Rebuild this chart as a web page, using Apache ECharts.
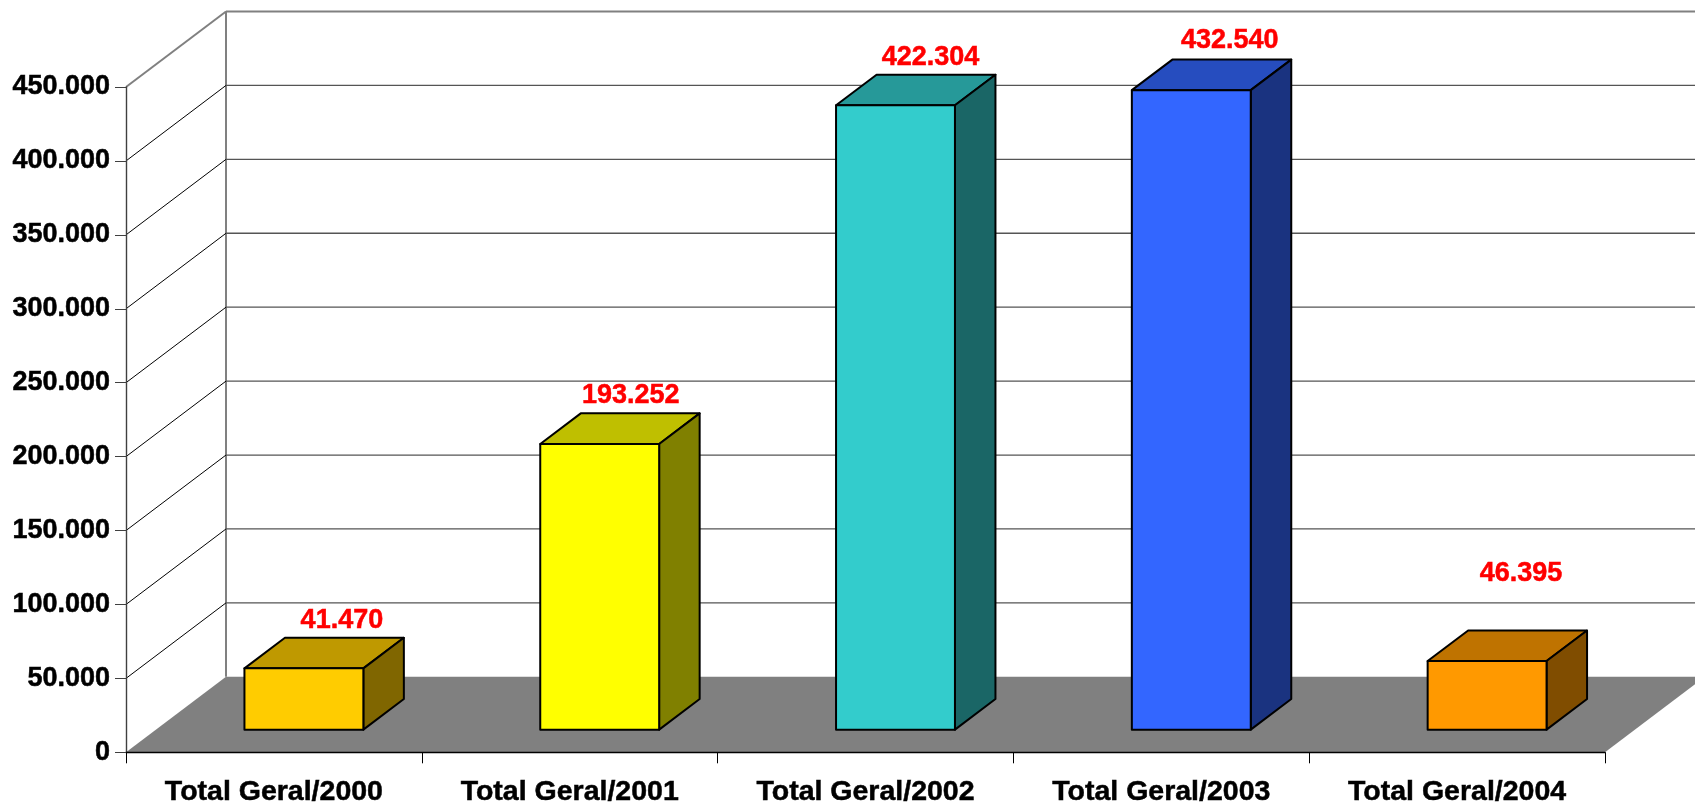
<!DOCTYPE html>
<html>
<head>
<meta charset="utf-8">
<style>html,body{margin:0;padding:0;background:#fff;overflow:hidden}#c{width:1695px;height:804px}</style>
<script src="https://cdn.jsdelivr.net/npm/echarts@6/dist/echarts.min.js"></script>
</head>
<body>
<div id="c"></div>
<script>
const categories = ['Total Geral/2000','Total Geral/2001','Total Geral/2002','Total Geral/2003','Total Geral/2004'];
const values = [41470, 193252, 422304, 432540, 46395];
const yTicks = [0,50000,100000,150000,200000,250000,300000,350000,400000,450000];

const frontColors = ['#FFCC00','#FFFF00','#33CCCC','#3366FF','#FF9900'];
const topColors   = ['#BF9900','#BFBF00','#269999','#264DBF','#BF7300'];
const sideColors  = ['#806600','#808000','#1A6666','#1A3380','#804D00'];

// projection of the 3D depth, in pixels
const DEPTH_X = 100, DEPTH_Y = 75.5;
const BAR_RATIO = 0.402, BAR_DEPTH = 0.405, BAR_GAP = 0.3;
// label placement relative to the bar's back top edge
const labelLift = [17, 18, 17.5, 19, 57];
const labelShift = [38, 31, 35, 38.5, 34];
const FONT = '"Liberation Sans", Arial, sans-serif';

const fmt = v => String(v).replace(/\B(?=(\d{3})+$)/g, '.');

function wallItem(params, api) {
  const v = api.value(1);
  const cs = params.coordSys;
  const y = api.coord([0, v])[1];
  const x0 = cs.x, x1 = cs.x + cs.width;
  const children = [];
  const top = v === yTicks[yTicks.length - 1];
  if (v === 0) {
    children.push({type:'polygon', shape:{points:[[x0,y],[x1,y],[x1+DEPTH_X,y-DEPTH_Y],[x0+DEPTH_X,y-DEPTH_Y]]},
      style:{fill:'#808080', stroke:null}});
    children.push({type:'line', shape:{x1:x0+DEPTH_X,y1:cs.y-DEPTH_Y,x2:x0+DEPTH_X,y2:y-DEPTH_Y},
      style:{stroke:'#808080', lineWidth:2, fill:null}});
  } else {
    children.push({type:'line', shape:{x1:x0,y1:y,x2:x0+DEPTH_X,y2:y-DEPTH_Y},
      style:{stroke: top ? '#808080' : '#000', lineWidth: top ? 2 : 1, fill:null}});
    children.push({type:'line', shape:{x1:x0+DEPTH_X,y1:y-DEPTH_Y,x2:x1+DEPTH_X,y2:y-DEPTH_Y},
      style:{stroke: top ? '#808080' : '#555', lineWidth: top ? 2 : 1.3, fill:null}});
  }
  return {type:'group', children};
}

function barItem(params, api) {
  const i = api.value(0), v = api.value(1);
  const c = api.coord([i, v]), b = api.coord([i, 0]);
  const w = api.size([1, 0])[0] * BAR_RATIO;
  const dx = DEPTH_X * BAR_DEPTH, dy = DEPTH_Y * BAR_DEPTH;
  const sx = DEPTH_X * BAR_GAP, sy = DEPTH_Y * BAR_GAP;
  const l = c[0] - w/2 + sx, r = c[0] + w/2 + sx, t = c[1] - sy, bt = b[1] - sy;
  const edge = {stroke:'#000', lineWidth:2, lineJoin:'round'};
  return {type:'group', children:[
    {type:'polygon', shape:{points:[[l,t],[r,t],[r+dx,t-dy],[l+dx,t-dy]]}, style:{fill:topColors[i], ...edge}},
    {type:'polygon', shape:{points:[[r,t],[r+dx,t-dy],[r+dx,bt-dy],[r,bt]]}, style:{fill:sideColors[i], ...edge}},
    {type:'rect', shape:{x:l,y:t,width:r-l,height:bt-t}, style:{fill:frontColors[i], ...edge}},
    {type:'text', x:(l+r)/2+labelShift[i], y:t-dy-labelLift[i],
      style:{text:fmt(v), fill:'#FF0000', font:'bold 27px '+FONT, textAlign:'center', textVerticalAlign:'middle',
        stroke:'#FF0000', lineWidth:0.5}}
  ]};
}

const chart = echarts.init(document.getElementById('c'), null, {renderer:'canvas'});
chart.setOption({
  animation:false,
  backgroundColor:'#fff',
  grid:{left:126, right:90, top:87, bottom:51.7, outerBoundsMode:'none'},
  xAxis:{type:'category', data:categories, z:5,
    axisLine:{lineStyle:{color:'#000',width:1.4}},
    axisTick:{show:true,length:11,lineStyle:{color:'#000',width:1}},
    axisLabel:{color:'#000',fontFamily:FONT,fontWeight:'bold',fontSize:28.5,margin:25,interval:0,
      textBorderColor:'#000',textBorderWidth:0.5}},
  yAxis:{type:'value', min:0, max:450000, interval:50000, z:5,
    axisLine:{show:true,lineStyle:{color:'#404040',width:1.4}},
    axisTick:{show:true,length:11,lineStyle:{color:'#404040',width:1}},
    splitLine:{show:false},
    axisLabel:{color:'#000',fontFamily:FONT,fontWeight:'bold',fontSize:27,margin:16,formatter:fmt,
      padding:[6,0,0,0],textBorderColor:'#000',textBorderWidth:0.5}},
  series:[
    {type:'custom', silent:true, z:1, renderItem:wallItem, encode:{x:0,y:1},
      data:yTicks.map(t=>[0,t])},
    {type:'custom', silent:true, z:2, renderItem:barItem, encode:{x:0,y:1},
      data:values.map((v,i)=>[i,v])}
  ]
});
</script>
</body>
</html>
